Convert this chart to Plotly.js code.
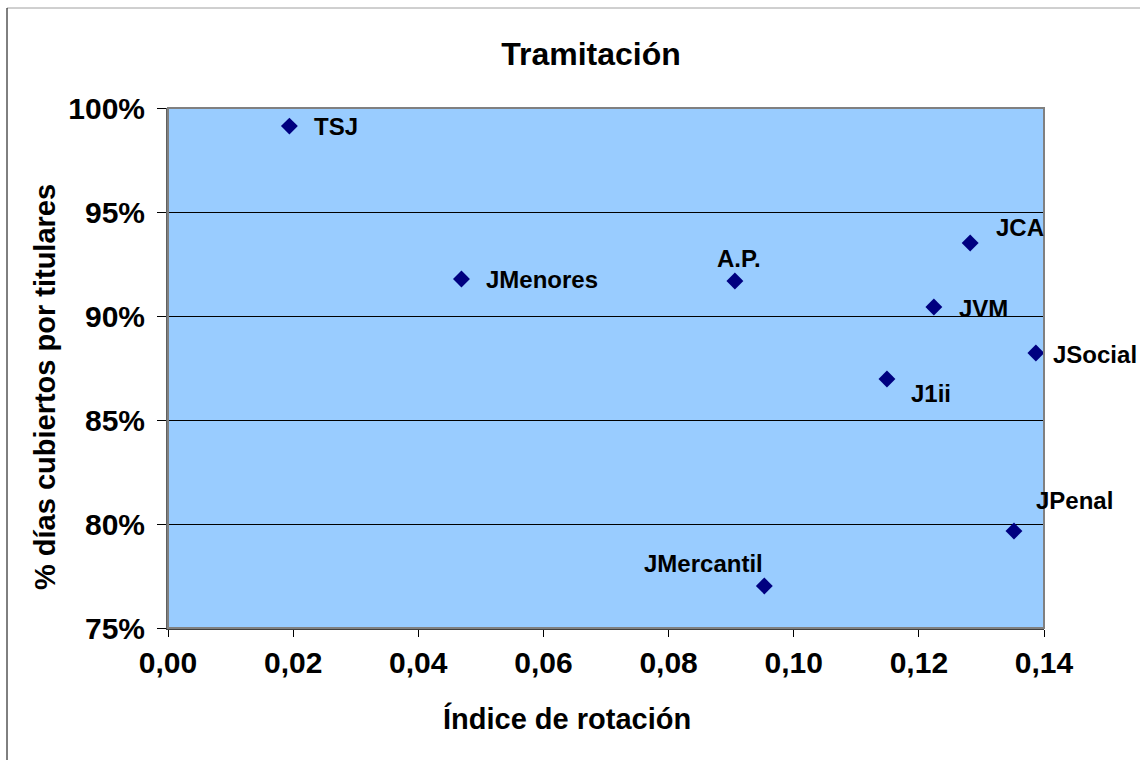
<!DOCTYPE html>
<html>
<head>
<meta charset="utf-8">
<script src="https://cdn.plot.ly/plotly-3.0.1.min.js"></script>
<style>
  html, body { margin: 0; padding: 0; background: #ffffff; }
  #chart { width: 1140px; height: 760px; }
</style>
</head>
<body>
<div id="chart"></div>
<script>
// ---- Data ----
const organos = ["TSJ", "JMenores", "A.P.", "JCA", "JVM", "JSocial", "J1ii", "JPenal", "JMercantil"];
const indiceRotacion = [0.0194, 0.0469, 0.0906, 0.1282, 0.1224, 0.1387, 0.1149, 0.1352, 0.0953];
const diasCubiertos = [0.9913, 0.9178, 0.9168, 0.9351, 0.9043, 0.8822, 0.8697, 0.7966, 0.7702];
const xTickVals = [0, 0.02, 0.04, 0.06, 0.08, 0.10, 0.12, 0.14];
const yTickVals = [0.75, 0.80, 0.85, 0.90, 0.95, 1.00];
const chartTitle = "Tramitación";
const xTitle = "Índice de rotación";
const yTitle = "% días cubiertos por titulares";

// ---- Label placement (style, not data) ----
const labelPlacement = [
  {xanchor: "left",   xshift: 23, yshift: 0},
  {xanchor: "left",   xshift: 23, yshift: -1},
  {xanchor: "center", xshift: 4,  yshift: 23},
  {xanchor: "left",   xshift: 24, yshift: 15},
  {xanchor: "left",   xshift: 23, yshift: -1},
  {xanchor: "left",   xshift: 15, yshift: -1},
  {xanchor: "left",   xshift: 22, yshift: -14},
  {xanchor: "left",   xshift: 20, yshift: 31},
  {xanchor: "right",  xshift: 1,  yshift: 22}
];

const FONT = "'Liberation Sans', Arial, sans-serif";

const trace = {
  type: "scatter",
  mode: "markers",
  x: indiceRotacion,
  y: diasCubiertos,
  text: organos,
  hoverinfo: "text+x+y",
  marker: { symbol: "diamond", size: 13, color: "#000080", line: { width: 0 } },
  showlegend: false,
  cliponaxis: false
};

const L = 168, R = 1044, T = 108, B = 628, W = 1140, H = 760;
const px = (p) => (p - L) / (R - L);
const py = (p) => (B - p) / (B - T);

const annotations = organos.map((name, i) => ({
  x: indiceRotacion[i],
  y: diasCubiertos[i],
  xref: "x", yref: "y",
  text: name,
  showarrow: false,
  xanchor: labelPlacement[i].xanchor,
  yanchor: "middle",
  xshift: labelPlacement[i].xshift,
  yshift: labelPlacement[i].yshift,
  font: { family: FONT, size: 24, color: "#000000", weight: "bold" }
}));

// axis titles placed as in the reference (offset from the plot-area centre)
annotations.push({
  xref: "paper", yref: "paper", x: px(567), y: py(718),
  xanchor: "center", yanchor: "middle", showarrow: false,
  text: xTitle,
  font: { family: FONT, size: 29, color: "#000000", weight: "bold" }
});
annotations.push({
  xref: "paper", yref: "paper", x: px(45), y: py(387),
  xanchor: "center", yanchor: "middle", showarrow: false, textangle: -90,
  text: yTitle,
  font: { family: FONT, size: 29, color: "#000000", weight: "bold" }
});

const shapes = [
  // outer chart frame (top and left edges visible in the reference)
  { type: "line", xref: "paper", yref: "paper", x0: px(7), x1: px(W + 5), y0: py(8), y1: py(8),
    line: { color: "#a0a0a0", width: 1 } },
  { type: "line", xref: "paper", yref: "paper", x0: px(7), x1: px(7), y0: py(8), y1: py(H + 5),
    line: { color: "#000000", width: 1 } },
  // plot-area border (gray)
  { type: "rect", xref: "paper", yref: "paper", x0: 0, x1: 1, y0: 0, y1: 1,
    line: { color: "#808080", width: 2 }, fillcolor: "rgba(0,0,0,0)", layer: "above" }
];

const layout = {
  width: W, height: H,
  margin: { l: L, r: W - R, t: T, b: H - B, pad: 0 },
  paper_bgcolor: "#ffffff",
  plot_bgcolor: "#99ccff",
  separators: ",.",
  font: { family: FONT, color: "#000000" },
  title: {
    text: chartTitle,
    font: { family: FONT, size: 32, color: "#000000", weight: "bold" },
    xref: "paper", x: px(591), xanchor: "center",
    yref: "container", y: 1 - 54 / H, yanchor: "middle"
  },
  xaxis: {
    range: [0, 0.14],
    tickvals: xTickVals,
    tickformat: ".2f",
    ticks: "outside", ticklen: 7, tickwidth: 1, tickcolor: "#000000",
    showgrid: false, zeroline: false,
    showline: true, linecolor: "#404040", linewidth: 2, mirror: false,
    tickfont: { family: FONT, size: 30, color: "#000000", weight: "bold" },
    fixedrange: true
  },
  yaxis: {
    range: [0.75, 1.0],
    tickvals: yTickVals,
    tickformat: ".0%",
    ticks: "outside", ticklen: 9, tickwidth: 1, tickcolor: "#000000",
    ticklabelstandoff: 6,
    showgrid: true, gridcolor: "#000000", gridwidth: 1,
    zeroline: false,
    showline: true, linecolor: "#606060", linewidth: 2, mirror: false,
    tickfont: { family: FONT, size: 30, color: "#000000", weight: "bold" },
    fixedrange: true
  },
  shapes: shapes,
  annotations: annotations,
  hovermode: "closest"
};

Plotly.newPlot("chart", [trace], layout, { displayModeBar: false });
</script>
</body>
</html>
